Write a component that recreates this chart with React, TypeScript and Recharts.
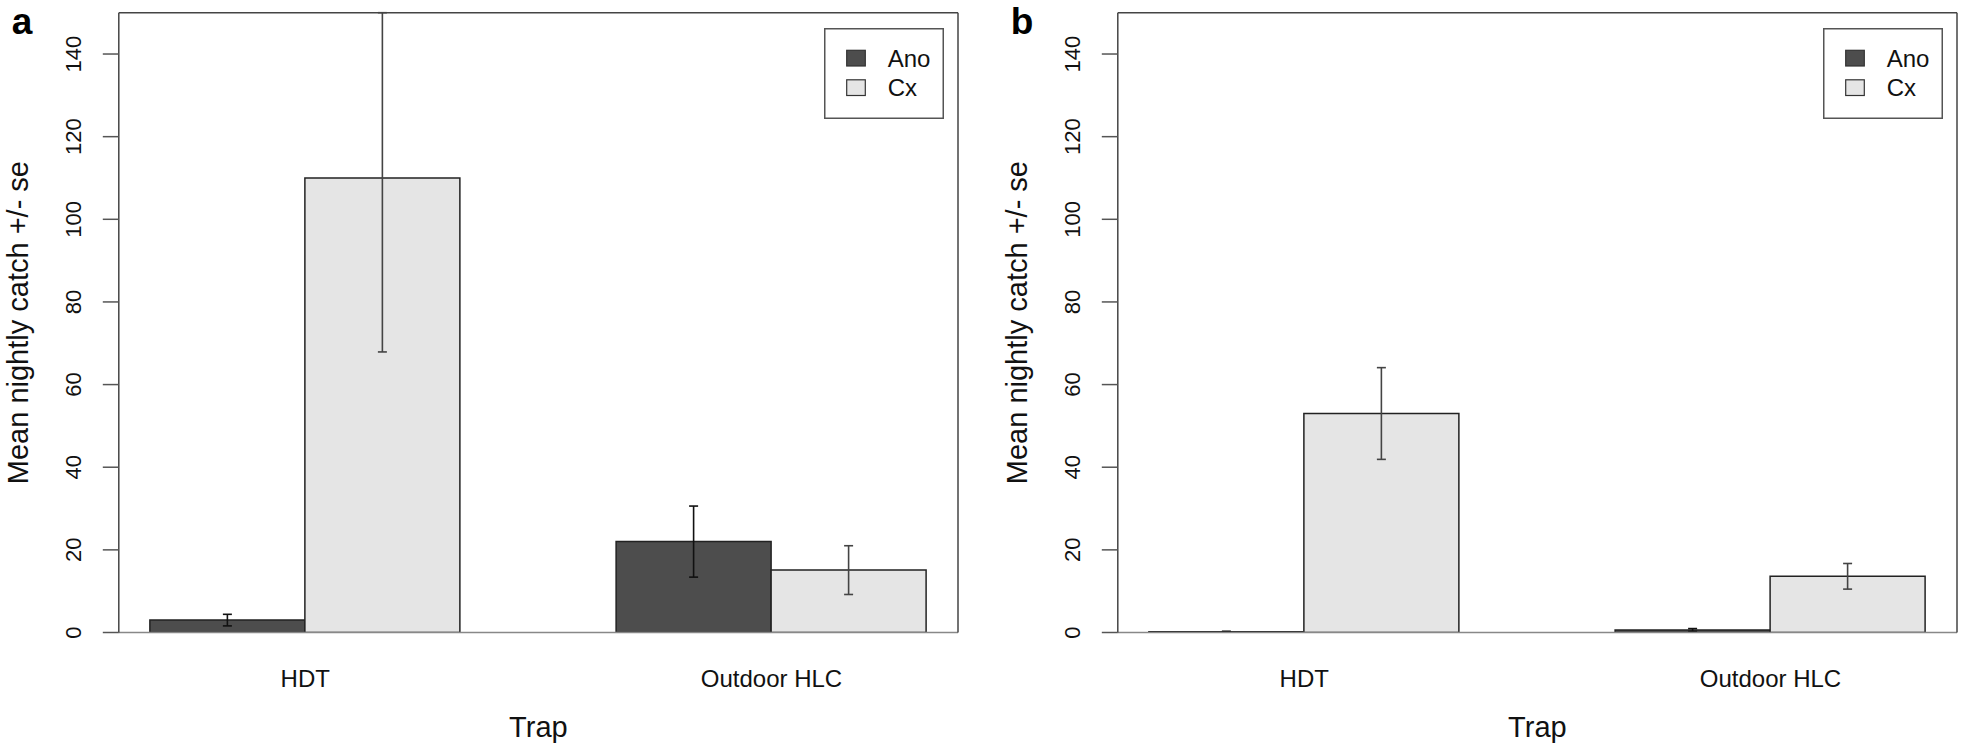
import React from "react";
import { Bar, BarChart, ErrorBar, Legend, XAxis, YAxis } from "recharts";

const categories = ["HDT", "Outdoor HLC"];
const yTicks = [0, 20, 40, 60, 80, 100, 120, 140];
const Y_MAX = 150;

// panel a
const anoMeanA = [3.0, 22.0];
const anoSeA = [1.4, 8.6];
const cxMeanA = [110.0, 15.1];
const cxSeA = [42.1, 5.9];

// panel b
const anoMeanB = [0.2, 0.6];
const anoSeB = [0.1, 0.35];
const cxMeanB = [53.0, 13.6];
const cxSeB = [11.1, 3.1];

const ANO_FILL = "#4d4d4d";
const CX_FILL = "#e5e5e5";
const INK = "#111";
const FONT = '"Liberation Sans", Arial, Helvetica, sans-serif';

const CHART_W = 962;
const CHART_H = 747;
const BOX_LEFT = 118.8;
const BOX_RIGHT = 958;
const BOX_TOP = 12.7;
const BOX_BOTTOM = 632.5;
const Y_AXIS_W = 60;
const X_AXIS_H = 60;
// R barplot pads xlim by 4%, so the category bands run 0.3 bar widths past the box
const BAR_UNIT = (BOX_RIGHT - BOX_LEFT) / 5.4;
const X_PAD = -0.3 * BAR_UNIT;

type Row = { trap: string; ano: number; anoErr: number[]; cx: number; cxErr: number[] };

// R clips the whisker at the plot box, so the upper arm stops at the y limit
const whisker = (mean: number, se: number) => [se, Math.min(mean + se, Y_MAX) - mean];

const buildRows = (anoMean: number[], anoSe: number[], cxMean: number[], cxSe: number[]): Row[] =>
  categories.map((trap, i) => ({
    trap,
    ano: anoMean[i],
    anoErr: whisker(anoMean[i], anoSe[i]),
    cx: cxMean[i],
    cxErr: whisker(cxMean[i], cxSe[i]),
  }));

const YTick = ({ x, y, payload }: any) => {
  const cx = x - 29.3;
  return (
    <text
      x={cx}
      y={y}
      transform={`rotate(-90 ${cx} ${y})`}
      textAnchor="middle"
      dominantBaseline="central"
      fontSize={22}
      fontFamily={FONT}
      fill={INK}
    >
      {payload.value}
    </text>
  );
};

const XTick = ({ x, y, payload }: any) => (
  <text x={x} y={y + 54.2} textAnchor="middle" fontSize={24} fontFamily={FONT} fill={INK}>
    {payload.value}
  </text>
);

const LegendBox = ({ payload }: any) => (
  <svg width={120} height={91} style={{ display: "block" }}>
    <rect x={0.75} y={0.75} width={118.5} height={89.5} fill="#fff" stroke="#555" strokeWidth={1.5} />
    {(payload ?? []).map((item: any, i: number) => (
      <g key={item.value}>
        <rect
          x={22.7}
          y={22.3 + i * 29.5}
          width={18.6}
          height={15.7}
          fill={item.color}
          stroke="#333"
          strokeWidth={1.2}
        />
        <text
          x={63.7}
          y={30.3 + i * 29.5}
          dominantBaseline="central"
          fontSize={24}
          fontFamily={FONT}
          fill={INK}
        >
          {item.value}
        </text>
      </g>
    ))}
  </svg>
);

const Panel = ({ letter, rows }: { letter: string; rows: Row[] }) => (
  <BarChart
    width={CHART_W}
    height={CHART_H}
    data={rows}
    margin={{
      top: BOX_TOP - 1,
      right: CHART_W - BOX_RIGHT - 1,
      bottom: CHART_H - BOX_BOTTOM - X_AXIS_H,
      left: BOX_LEFT - Y_AXIS_W,
    }}
    barCategoryGap="16.6667%"
    barGap={0}
  >
    <XAxis
      dataKey="trap"
      height={X_AXIS_H}
      padding={{ left: X_PAD, right: X_PAD }}
      tick={<XTick />}
      tickLine={false}
      tickSize={0}
      tickMargin={0}
      axisLine={{ stroke: "#888", strokeWidth: 1.5 }}
      label={(props: any) => {
        const vb = props.viewBox ?? { x: BOX_LEFT, y: BOX_BOTTOM, width: BOX_RIGHT - BOX_LEFT };
        return (
          <text
            x={vb.x + vb.width / 2}
            y={vb.y + 104.2}
            textAnchor="middle"
            fontSize={29}
            fontFamily={FONT}
            fill={INK}
          >
            Trap
          </text>
        );
      }}
    />
    <XAxis
      xAxisId="top"
      dataKey="trap"
      orientation="top"
      height={1}
      padding={{ left: X_PAD, right: X_PAD }}
      tick={false}
      tickLine={false}
      axisLine={{ stroke: "#444", strokeWidth: 1.5 }}
      label={(props: any) => {
        const vb = props.viewBox ?? { x: BOX_LEFT, y: BOX_TOP - 1 };
        return (
          <text
            x={vb.x - 107.1}
            y={vb.y + 22}
            fontSize={37}
            fontWeight="bold"
            fontFamily={FONT}
            fill="#000"
          >
            {letter}
          </text>
        );
      }}
    />
    <YAxis
      width={Y_AXIS_W}
      domain={[0, Y_MAX]}
      ticks={yTicks}
      allowDataOverflow
      tick={<YTick />}
      tickSize={16}
      tickMargin={0}
      tickLine={{ stroke: "#555", strokeWidth: 1.5 }}
      axisLine={{ stroke: "#444", strokeWidth: 1.5 }}
      label={(props: any) => {
        const vb = props.viewBox ?? { x: BOX_LEFT - Y_AXIS_W, y: BOX_TOP, height: BOX_BOTTOM - BOX_TOP };
        const lx = vb.x - 30.3;
        const ly = vb.y + vb.height / 2;
        return (
          <text
            x={lx}
            y={ly}
            transform={`rotate(-90 ${lx} ${ly})`}
            textAnchor="middle"
            fontSize={29}
            fontFamily={FONT}
            fill={INK}
          >
            Mean nightly catch +/- se
          </text>
        );
      }}
    />
    <YAxis
      yAxisId="right"
      orientation="right"
      width={1}
      domain={[0, Y_MAX]}
      tick={false}
      tickLine={false}
      axisLine={{ stroke: "#444", strokeWidth: 1.5 }}
    />
    <Legend
      layout="horizontal"
      verticalAlign="middle"
      align="center"
      content={<LegendBox />}
      wrapperStyle={{ left: 824, top: 27.7, width: 120, height: 91 }}
    />
    <Bar dataKey="ano" name="Ano" fill={ANO_FILL} stroke="#222" strokeWidth={1.5} isAnimationActive={false}>
      <ErrorBar dataKey="anoErr" width={4.5} stroke="#111" strokeWidth={1.6} isAnimationActive={false} />
    </Bar>
    <Bar dataKey="cx" name="Cx" fill={CX_FILL} stroke="#222" strokeWidth={1.5} isAnimationActive={false}>
      <ErrorBar dataKey="cxErr" width={4.5} stroke="#444" strokeWidth={1.6} isAnimationActive={false} />
    </Bar>
  </BarChart>
);

const rowsA = buildRows(anoMeanA, anoSeA, cxMeanA, cxSeA);
const rowsB = buildRows(anoMeanB, anoSeB, cxMeanB, cxSeB);

export default function App() {
  return (
    <div
      style={{
        position: "absolute",
        left: 0,
        top: 0,
        width: 1961,
        height: 747,
        background: "#fff",
        overflow: "hidden",
      }}
    >
      <div style={{ position: "absolute", left: 0, top: 0 }}>
        <Panel letter="a" rows={rowsA} />
      </div>
      <div style={{ position: "absolute", left: 998.5, top: 0 }}>
        <Panel letter="b" rows={rowsB} />
      </div>
    </div>
  );
}
